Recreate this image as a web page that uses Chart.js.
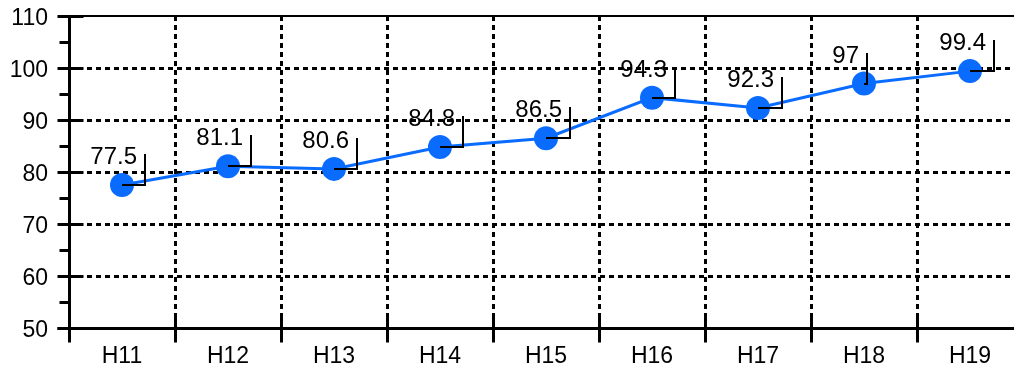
<!DOCTYPE html>
<html>
<head>
<meta charset="utf-8">
<script src="https://cdn.jsdelivr.net/npm/chart.js@4/dist/chart.umd.min.js"></script>
<style>
  html, body { margin: 0; padding: 0; overflow: hidden; background: #fff; }
  #wrap { width: 1040px; height: 371px; }
</style>
</head>
<body>
<div id="wrap"><canvas id="c" width="1040" height="371"></canvas></div>
<script>
// Series data
const categories = ['H11', 'H12', 'H13', 'H14', 'H15', 'H16', 'H17', 'H18', 'H19'];
const values = [77.5, 81.1, 80.6, 84.8, 86.5, 94.3, 92.3, 97, 99.4];

// Value axis
const yMin = 50;
const yMax = 110;
const yStep = 10;
const yMinorTicks = [55, 65, 75, 85, 95, 105];

// Horizontal reach of each value label's leader line (px)
const leaderDx = [23, 23, 23, 23, 24, 23, 24, 3, 24];

const LINE_BLUE = '#0a6cff';
const FONT = "'Liberation Sans', Arial, sans-serif";

// Frame, dotted grid and tick marks drawn behind the series
const frameGrid = {
  id: 'frameGrid',
  beforeDatasetsDraw(chart) {
    const { ctx, chartArea: a, scales: { x, y } } = chart;
    const half = (x.getPixelForValue(1) - x.getPixelForValue(0)) / 2;
    const bounds = [];
    for (let i = 0; i <= categories.length; i++) {
      bounds.push(Math.round(x.getPixelForValue(i) - half) + 0.5);
    }
    const py = v => Math.round(y.getPixelForValue(v)) + 0.5;
    ctx.save();
    ctx.strokeStyle = '#000';
    ctx.lineCap = 'butt';

    // dotted grid
    ctx.lineWidth = 3;
    ctx.setLineDash([5, 4]);
    for (let v = yMin + yStep; v < yMax; v += yStep) {
      ctx.beginPath();
      ctx.moveTo(a.left, py(v));
      ctx.lineTo(a.right, py(v));
      ctx.stroke();
    }
    for (let i = 1; i < bounds.length; i++) {
      ctx.beginPath();
      ctx.moveTo(bounds[i], a.top);
      ctx.lineTo(bounds[i], a.bottom);
      ctx.stroke();
    }
    ctx.setLineDash([]);

    // top edge
    ctx.lineWidth = 2;
    ctx.beginPath();
    ctx.moveTo(a.left, Math.round(a.top));
    ctx.lineTo(a.right, Math.round(a.top));
    ctx.stroke();

    // axes
    const ax = Math.round(a.left) + 0.5;
    const ay = Math.round(a.bottom) + 0.5;
    ctx.lineWidth = 3;
    ctx.beginPath();
    ctx.moveTo(ax, a.top - 1);
    ctx.lineTo(ax, ay + 1);
    ctx.moveTo(ax - 12, ay);
    ctx.lineTo(a.right, ay);
    ctx.stroke();

    // major value ticks (cross the axis)
    ctx.beginPath();
    for (let v = yMin; v <= yMax; v += yStep) {
      ctx.moveTo(ax - 12, py(v));
      ctx.lineTo(ax + 14, py(v));
    }
    // minor value ticks (outside only)
    yMinorTicks.forEach(v => {
      ctx.moveTo(ax - 10, py(v));
      ctx.lineTo(ax, py(v));
    });
    // category ticks
    bounds.forEach((bx, i) => {
      ctx.moveTo(bx, i === 0 ? ay : ay - 13);
      ctx.lineTo(bx, ay + 14);
    });
    ctx.stroke();
    ctx.restore();
  }
};

// Value labels with right-angle leader lines, drawn over the markers
const valueLabels = {
  id: 'valueLabels',
  afterDatasetsDraw(chart) {
    const { ctx } = chart;
    const meta = chart.getDatasetMeta(0);
    ctx.save();
    ctx.strokeStyle = '#000';
    ctx.lineWidth = 2;
    ctx.fillStyle = '#000';
    ctx.font = '24px ' + FONT;
    ctx.textAlign = 'right';
    ctx.textBaseline = 'alphabetic';
    meta.data.forEach((pt, i) => {
      const px = Math.round(pt.x);
      const py = Math.round(pt.y);
      const cx = px + leaderDx[i];
      const top = py - 31;
      ctx.beginPath();
      ctx.moveTo(px, py);
      ctx.lineTo(cx, py);
      ctx.lineTo(cx, top);
      ctx.stroke();
      ctx.fillText(String(values[i]), cx - 8, top + 10);
    });
    ctx.restore();
  }
};

new Chart(document.getElementById('c'), {
  type: 'line',
  data: {
    labels: categories,
    datasets: [{
      data: values,
      borderColor: LINE_BLUE,
      backgroundColor: LINE_BLUE,
      borderWidth: 3,
      pointRadius: 12,
      pointHoverRadius: 12,
      pointBackgroundColor: LINE_BLUE,
      pointBorderWidth: 0,
      tension: 0,
      fill: false
    }]
  },
  options: {
    responsive: false,
    animation: false,
    devicePixelRatio: 1,
    layout: { padding: { top: 16, right: 17, left: 0, bottom: 0 } },
    plugins: { legend: { display: false }, tooltip: { enabled: false } },
    scales: {
      x: {
        type: 'category',
        offset: true,
        grid: { display: false, drawTicks: false },
        border: { display: false },
        ticks: { color: '#000', font: { family: FONT, size: 23 }, padding: 15, maxRotation: 0 },
        afterFit(s) { s.height = 43; s.paddingLeft = 0; s.paddingRight = 0; }
      },
      y: {
        min: yMin,
        max: yMax,
        grid: { display: false, drawTicks: false },
        border: { display: false },
        ticks: { stepSize: yStep, color: '#000', font: { family: FONT, size: 23 }, padding: 21, labelOffset: 3 },
        afterFit(s) { s.width = 69; s.paddingTop = 0; s.paddingBottom = 0; }
      }
    }
  },
  plugins: [frameGrid, valueLabels]
});
</script>
</body>
</html>
